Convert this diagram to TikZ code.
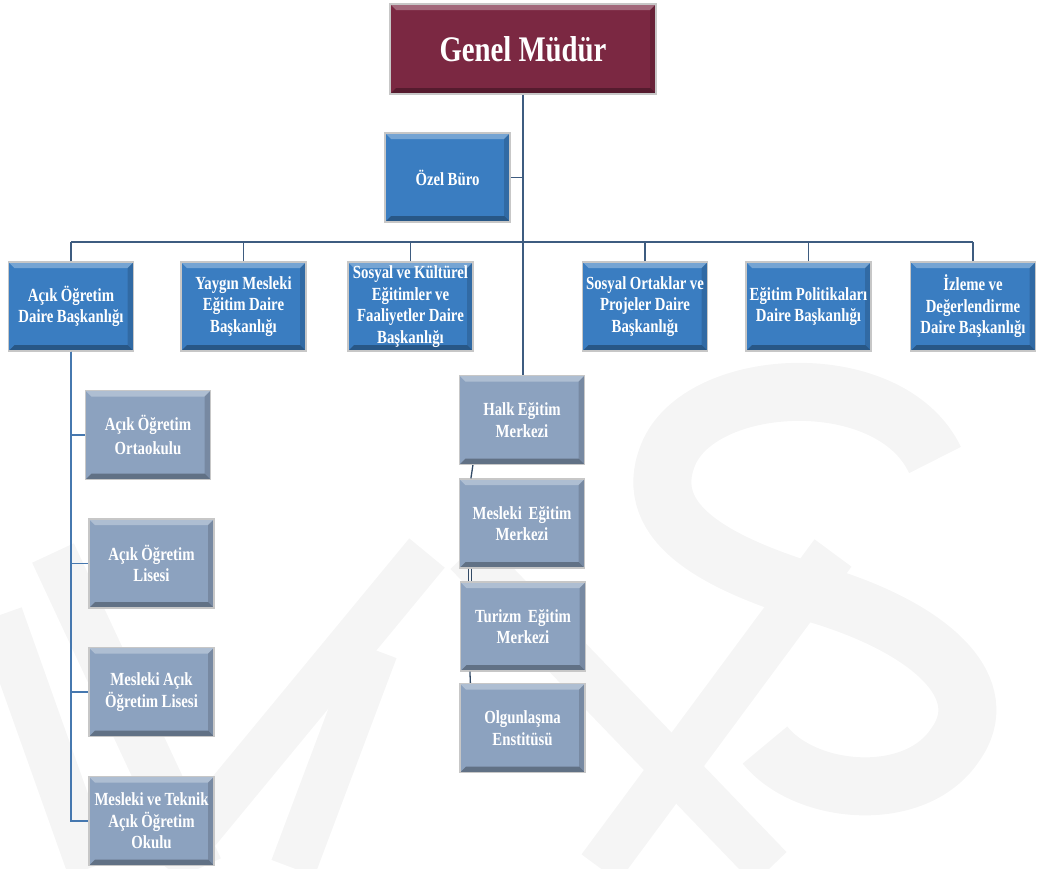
\documentclass[tikz,border=0pt]{standalone}
\usepackage{fontspec}
\setmainfont{Liberation Serif}[FakeStretch=0.8]
\usepackage{tikz}

\definecolor{bordo}{RGB}{123,40,66}
\definecolor{mavi}{RGB}{58,125,193}
\definecolor{grimavi}{RGB}{140,162,191}
\definecolor{hat}{RGB}{62,92,128}
\definecolor{solhat}{RGB}{70,120,175}

\tikzset{
  kutu/.style={draw=black!22, line width=1.2pt, inner sep=0pt, align=flush center,
    text=white, font=\bfseries\fontsize{18.5}{21.5}\selectfont,
    execute at begin node={\spaceskip=3.4pt plus 1pt\relax},
    minimum width=125pt, minimum height=89pt, text width=124pt,
    path picture={
      \fill[white,opacity=.3] (path picture bounding box.north west) -- (path picture bounding box.north east)
        -- ([xshift=-6pt,yshift=-6pt]path picture bounding box.north east) -- ([xshift=6pt,yshift=-6pt]path picture bounding box.north west) -- cycle;
      \fill[black,opacity=.3] (path picture bounding box.south west) -- (path picture bounding box.south east)
        -- ([xshift=-6pt,yshift=6pt]path picture bounding box.south east) -- ([xshift=6pt,yshift=6pt]path picture bounding box.south west) -- cycle;
      \fill[black,opacity=.15] (path picture bounding box.north east) -- (path picture bounding box.south east)
        -- ([xshift=-6pt,yshift=6pt]path picture bounding box.south east) -- ([xshift=-6pt,yshift=-6pt]path picture bounding box.north east) -- cycle;
    }},
  ust/.style={kutu, fill=bordo, minimum width=266pt, minimum height=90pt, text width=260pt,
    font=\bfseries\fontsize{36}{40}\selectfont,
    execute at begin node={\spaceskip=7pt\relax}},
  birim/.style={kutu, fill=mavi},
  alt/.style={kutu, fill=grimavi},
  bag/.style={draw=hat, line width=1.3pt},
  wm/.style={draw=black!4, line width=46pt}
}

\begin{document}
\begin{tikzpicture}[x=1pt,y=-1pt]
\useasboundingbox (0,0) rectangle (1038,868);

% Watermark
\draw[wm, line width=58pt] (935,460) .. controls (890,365) and (700,375) .. (668,455)
  .. controls (640,525) and (720,565) .. (820,595) .. controls (935,630) and (995,690) .. (955,745)
  .. controls (915,805) and (805,795) .. (765,745);
\draw[wm] (53,553) -- (200,868);
\draw[wm] (427,553) -- (167,868);
\draw[wm] (467,553) -- (770,868);
\draw[wm] (833,553) -- (600,868);
\draw[wm] (0,615) -- (90,868);
\draw[wm] (375,650) -- (293,868);

% Genel Mudur and Ozel Buro
\node[ust] (gm) at (523,49) {Genel Müdür};
\node[birim] (ozel) at (447.5,177.5) {Özel Büro};

% Daire Baskanliklari
\node[birim] (acik) at (71,306.5) {Açık Öğretim\\Daire Başkanlığı};
\node[birim] (yaygin) at (243.5,306.5) {Yaygın Mesleki\\Eğitim Daire\\Başkanlığı};
\node[birim] (sosyal) at (410.5,306.5) {Sosyal ve Kültürel\\Eğitimler ve\\Faaliyetler Daire\\Başkanlığı};
\node[birim] (ortak) at (645,306.5) {Sosyal Ortaklar ve\\Projeler Daire\\Başkanlığı};
\node[birim] (polit) at (808.5,306.5) {Eğitim Politikaları\\Daire Başkanlığı};
\node[birim] (izleme) at (973,306.5) {İzleme ve\\Değerlendirme\\Daire Başkanlığı};

% Acik ogretim okullari
\node[alt] (ortaokul) at (148,435) {Açık Öğretim\\[3pt]Ortaokulu};
\node[alt] (lise) at (151.5,563.5) {Açık Öğretim\\Lisesi};
\node[alt] (mlise) at (151.5,692) {Mesleki Açık\\Öğretim Lisesi};
\node[alt] (mto) at (151.5,821) {Mesleki ve Teknik\\Açık Öğretim\\Okulu};

% Merkezler
\node[alt] (halk) at (522,420) {Halk Eğitim\\Merkezi};
\node[alt] (mem) at (522,523.5) {Mesleki~ Eğitim\\Merkezi};
\node[alt] (turizm) at (523,626.5) {Turizm~ Eğitim\\Merkezi};
\node[alt] (olgun) at (522.5,728) {Olgunlaşma\\Enstitüsü};

% Connectors
\coordinate (bus) at (0,242);
\draw[bag] (gm.south) -- (gm.south |- halk.north);
\draw[bag] (ozel.east) -- (ozel.east -| gm.south);
\draw[bag] (acik.north |- bus) -- (izleme.north |- bus);
\foreach \b in {acik,yaygin,sosyal,ortak,polit,izleme}
  \draw[bag] (\b.north) -- (\b.north |- bus);
\foreach \s in {ortaokul,lise,mlise,mto}
  \draw[bag, draw=solhat] (acik.south) |- (\s.west);

% short links between merkezler
\draw[bag, draw=hat!80!black] ([xshift=14pt]halk.south west) -- ([xshift=12pt]mem.north west);
\draw[bag, draw=hat!80!black, line width=1pt] ([xshift=10pt]mem.south west) -- ([xshift=9pt]turizm.north west);
\draw[bag, draw=hat!80!black, line width=1pt] ([xshift=13pt]mem.south west) -- ([xshift=12pt]turizm.north west);
\draw[bag, draw=hat!80!black] ([xshift=10pt]turizm.south west) -- ([xshift=11pt]olgun.north west);
\end{tikzpicture}
\end{document}
